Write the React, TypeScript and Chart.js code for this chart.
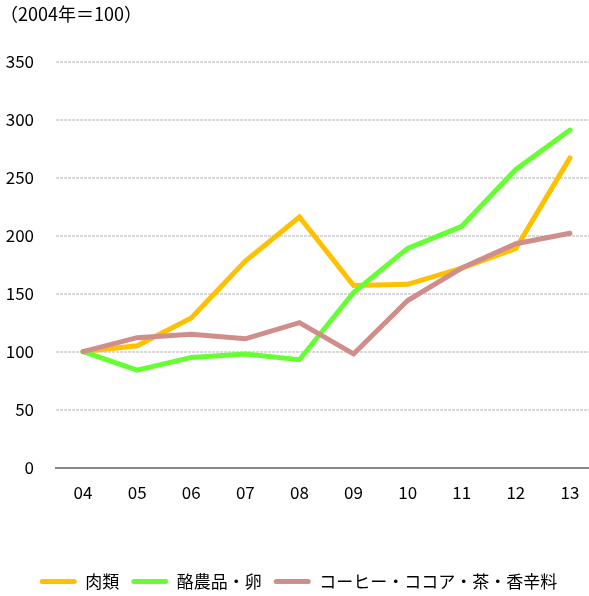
import React, { useEffect, useRef } from "react";
import { Chart, registerables } from "chart.js";

Chart.register(...registerables);

const categories = ["04", "05", "06", "07", "08", "09", "10", "11", "12", "13"];
const meat = [100, 105, 129, 178, 216, 157, 158, 172, 189, 267];
const dairyEggs = [100, 84, 95, 98, 93, 151, 189, 208, 257, 291];
const coffeeTeaSpice = [100, 112, 115, 111, 125, 98, 144, 172, 193, 202];
const seriesNames = ["肉類", "酪農品・卵", "コーヒー・ココア・茶・香辛料"];
const yTicks = [0, 50, 100, 150, 200, 250, 300, 350];
const titleText = "（2004年＝100）";

const FONT = "'Noto Sans CJK JP', 'Noto Sans', sans-serif";

export default function App() {
  const ref = useRef<HTMLCanvasElement | null>(null);

  useEffect(() => {
    if (!ref.current) return;
    const colors = ["#FFC000", "#66FF33", "#CF8E8C"];
    const values = [meat, dairyEggs, coffeeTeaSpice];
    const chart = new Chart(ref.current, {
      type: "line",
      data: {
        labels: categories,
        datasets: values.map((v, i) => ({
          label: seriesNames[i],
          data: v,
          borderColor: colors[i],
          backgroundColor: colors[i],
          borderWidth: 5,
          pointRadius: 0,
          pointHoverRadius: 0,
          tension: 0,
          borderCapStyle: "round" as const,
          borderJoinStyle: "miter" as const,
          order: 3 - i,
          fill: false,
        })),
      },
      options: {
        animation: false,
        responsive: false,
        maintainAspectRatio: false,
        layout: { padding: { left: 0, right: 0, top: 0, bottom: -4 } },
        plugins: {
          tooltip: { enabled: false },
          title: {
            display: true,
            text: titleText,
            align: "start",
            color: "#000",
            font: { family: FONT, size: 18, weight: "normal" },
            padding: { top: 3, bottom: 37 },
          },
          legend: {
            display: true,
            position: "bottom",
            labels: {
              color: "#000",
              font: { family: FONT, size: 17 },
              boxWidth: 37,
              boxHeight: 5,
              padding: 12,
              useBorderRadius: true,
              borderRadius: 2.5,
              sort: (a: any, b: any) => a.datasetIndex - b.datasetIndex,
              generateLabels: (c: any) => {
                const items = Chart.defaults.plugins.legend.labels.generateLabels(c);
                return items.map((it: any) => ({
                  ...it,
                  lineWidth: 0,
                  strokeStyle: "rgba(0,0,0,0)",
                  fillStyle: colors[it.datasetIndex],
                  borderRadius: 2.5,
                }));
              },
            },
          },
        },
        scales: {
          x: {
            type: "category",
            offset: true,
            grid: { display: false, drawTicks: false },
            border: { display: true, color: "#868686", width: 2 },
            ticks: {
              color: "#000",
              font: { family: FONT, size: 17 },
              padding: 15,
              maxRotation: 0,
            },
            afterFit: (axis: any) => {
              axis.height += 43;
            },
          },
          y: {
            min: 0,
            max: 350,
            afterBuildTicks: (axis: any) => {
              axis.ticks = yTicks.map((v) => ({ value: v }));
            },
            afterFit: (axis: any) => {
              axis.width = 56;
            },
            grid: {
              drawTicks: false,
              color: (ctx: any) => (ctx.tick && ctx.tick.value === 0 ? "#868686" : "#D9D9D9"),
              lineWidth: 2,
            },
            border: { display: false, dash: [3, 1] },
            ticks: {
              color: "#000",
              font: { family: FONT, size: 17 },
              padding: 22,
            },
          },
        },
      },
    });
    return () => chart.destroy();
  }, []);

  return (
    <div
      style={{
        position: "absolute",
        left: 0,
        top: 0,
        width: 589,
        height: 596,
        overflow: "hidden",
        background: "#fff",
      }}
    >
      <canvas ref={ref} width={597} height={596} style={{ display: "block", width: 597, height: 596 }} />
    </div>
  );
}
